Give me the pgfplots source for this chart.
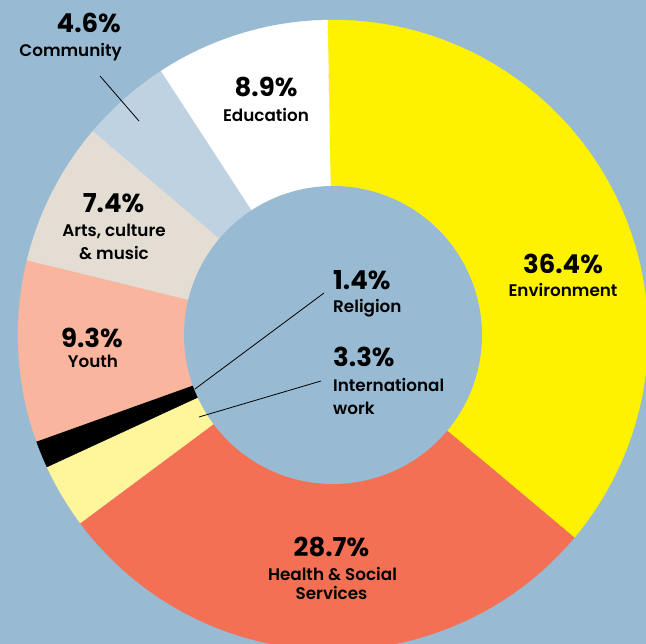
\documentclass[border=0pt]{standalone}
\usepackage{fontspec}
\setmainfont{Poppins}
\newfontfamily\semib{Poppins SemiBold}
\usepackage{pgfplots}
\pgfplotsset{compat=1.18}
\definecolor{bgc}{HTML}{98BAD2}
\definecolor{cEnv}{HTML}{FFF200}
\definecolor{cHea}{HTML}{F37054}
\definecolor{cInt}{HTML}{FFF59B}
\definecolor{cRel}{HTML}{000000}
\definecolor{cYou}{HTML}{F9B59D}
\definecolor{cArt}{HTML}{E4DDD3}
\definecolor{cCom}{HTML}{BFD2E2}
\definecolor{cEdu}{HTML}{FFFFFF}
% shares in percent
\def\vEnv{36.4}\def\vHea{28.7}\def\vInt{3.3}\def\vRel{1.4}
\def\vYou{9.3}\def\vArt{7.4}\def\vCom{4.6}\def\vEdu{8.9}
\pgfmathsetmacro\aA{91}
\pgfmathsetmacro\aB{\aA-\vEnv*3.6}
\pgfmathsetmacro\aC{\aB-\vHea*3.6}
\pgfmathsetmacro\aD{\aC-\vInt*3.6}
\pgfmathsetmacro\aE{\aD-\vRel*3.6}
\pgfmathsetmacro\aF{\aE-\vYou*3.6}
\pgfmathsetmacro\aG{\aF-\vArt*3.6}
\pgfmathsetmacro\aH{\aG-\vCom*3.6}
\pgfmathsetmacro\aI{\aH-\vEdu*3.6}
\def\R{315}
\newcommand\pct{\fontsize{26}{30}\selectfont\bfseries}
\newcommand\lab{\fontsize{16.8}{21}\selectfont\semib}
\begin{document}
\begin{tikzpicture}
\useasboundingbox (0,0) rectangle (646pt,644pt);
\fill[bgc] (0,0) rectangle (646pt,644pt);
\begin{axis}[at={(0,0)}, anchor=south west, width=646pt, height=644pt,
  scale only axis, xmin=-333, xmax=313, ymin=-309, ymax=335, hide axis,
  clip=true]
\addplot[fill=cEnv, draw=cEnv, line width=0.4pt, data cs=polar, domain=\aB:\aA, samples=90] (x,\R) -- (axis cs:0,0) -- cycle;
\addplot[fill=cHea, draw=cHea, line width=0.4pt, data cs=polar, domain=\aC:\aB, samples=80] (x,\R) -- (axis cs:0,0) -- cycle;
\addplot[fill=cInt, draw=cInt, line width=0.4pt, data cs=polar, domain=\aD:\aC, samples=15] (x,\R) -- (axis cs:0,0) -- cycle;
\addplot[fill=cRel, draw=cRel, line width=0.4pt, data cs=polar, domain=\aE:\aD, samples=8] (x,\R) -- (axis cs:0,0) -- cycle;
\addplot[fill=cYou, draw=cYou, line width=0.4pt, data cs=polar, domain=\aF:\aE, samples=30] (x,\R) -- (axis cs:0,0) -- cycle;
\addplot[fill=cArt, draw=cArt, line width=0.4pt, data cs=polar, domain=\aG:\aF, samples=25] (x,\R) -- (axis cs:0,0) -- cycle;
\addplot[fill=cCom, draw=cCom, line width=0.4pt, data cs=polar, domain=\aH:\aG, samples=18] (x,\R) -- (axis cs:0,0) -- cycle;
\addplot[fill=cEdu, draw=cEdu, line width=0.4pt, data cs=polar, domain=\aI:\aH, samples=30] (x,\R) -- (axis cs:0,0) -- cycle;
% hole
\addplot[fill=bgc, draw=none, data cs=polar, domain=0:360, samples=240] (x,149) -- cycle;
% leader lines
\addplot[black, line width=0.8pt] coordinates {(-233,259) (-194,214)};
\addplot[black, line width=0.8pt] coordinates {(-138,-54) (-9,42)};
\addplot[black, line width=0.8pt] coordinates {(-134,-82) (-12,-46)};
% labels
\node[anchor=base east, inner sep=0] at (axis cs:-212,302) {\pct 4.6\%};
\node[anchor=base east, inner sep=0] at (axis cs:-211,278) {\lab Community};
\node[anchor=base, inner sep=0] at (axis cs:-67,238) {\pct 8.9\%};
\node[anchor=base, inner sep=0] at (axis cs:-67,213) {\lab Education};
\node[anchor=base, inner sep=0] at (axis cs:230,61) {\pct 36.4\%};
\node[anchor=base, inner sep=0] at (axis cs:230,38) {\lab Environment};
\node[anchor=base west, inner sep=0] at (axis cs:0,45) {\pct 1.4\%};
\node[anchor=base west, inner sep=0] at (axis cs:0,22) {\lab Religion};
\node[anchor=base west, inner sep=0] at (axis cs:0,-32) {\pct 3.3\%};
\node[anchor=base west, inner sep=0] at (axis cs:0,-57) {\lab International};
\node[anchor=base west, inner sep=0] at (axis cs:0,-80) {\lab work};
\node[anchor=base, inner sep=0] at (axis cs:-219.5,122) {\pct 7.4\%};
\node[anchor=base, inner sep=0] at (axis cs:-219,98) {\lab Arts, culture};
\node[anchor=base, inner sep=0] at (axis cs:-219,75) {\lab \& music};
\node[anchor=base, inner sep=0] at (axis cs:-241,-13) {\pct 9.3\%};
\node[anchor=base, inner sep=0] at (axis cs:-240,-33) {\lab Youth};
\node[anchor=base, inner sep=0] at (axis cs:-1.5,-222) {\pct 28.7\%};
\node[anchor=base, inner sep=0] at (axis cs:-0.5,-246) {\lab Health \& Social};
\node[anchor=base, inner sep=0] at (axis cs:-1.5,-265) {\lab Services};
\end{axis}
\end{tikzpicture}
\end{document}
